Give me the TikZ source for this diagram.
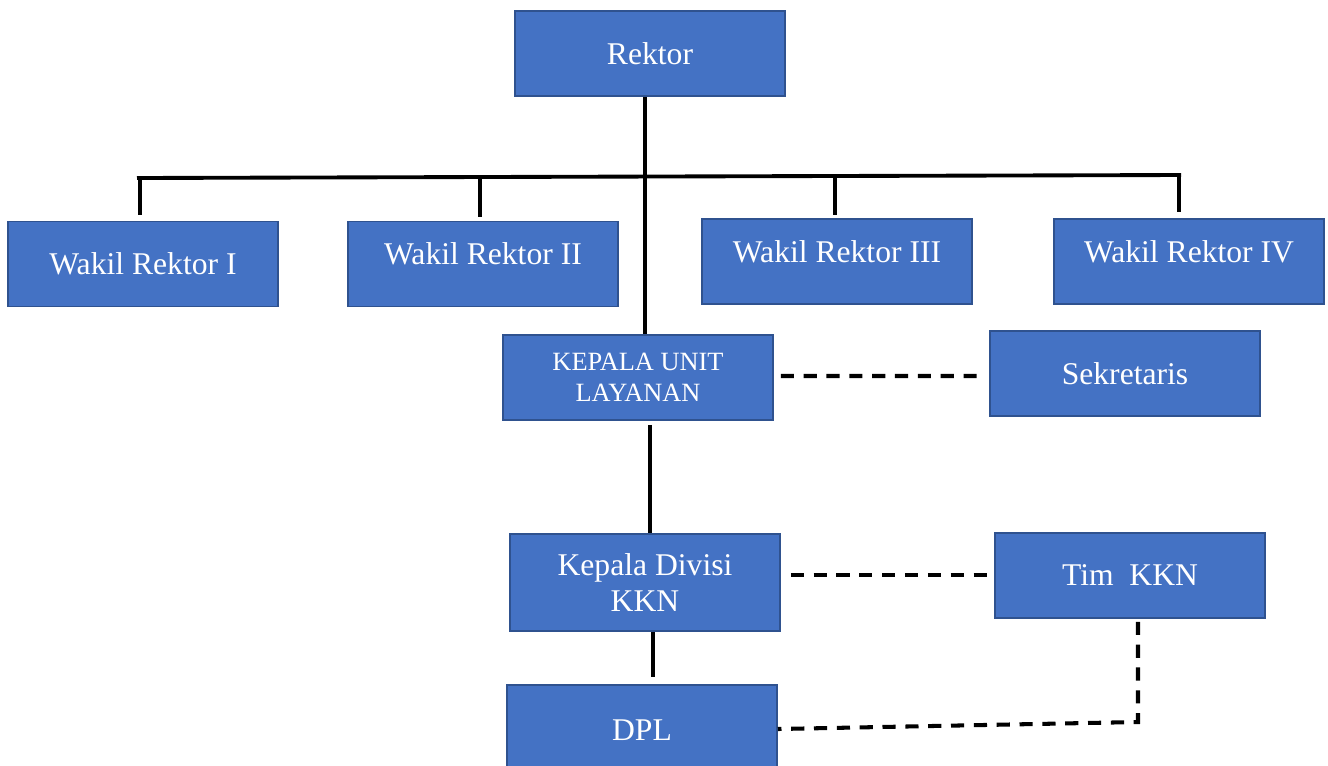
\documentclass[tikz,border=0pt]{standalone}
\usepackage{fontspec}
\setmainfont{Liberation Serif}
\usepackage{tikz}
\usetikzlibrary{positioning, calc}

\definecolor{boxblue}{HTML}{4472C4}
\definecolor{boxedge}{HTML}{2F528F}

\tikzset{
  unit/.style={draw=boxedge, fill=boxblue, line width=0.9pt, text=white,
    minimum width=5.4cm, minimum height=1.7cm, align=center,
    font=\fontsize{18}{21}\selectfont},
  lifted/.style={text depth=0.4cm},
  solidline/.style={line width=2.2pt, black},
  dashline/.style={line width=2.3pt, black, dash pattern=on 7.5pt off 5.5pt}
}

\begin{document}
\begin{tikzpicture}[x=0.02cm, y=-0.02cm]
\useasboundingbox (0,0) rectangle (1328,765);

% Top level
\node[unit] (rektor) at (650,53.5) {Rektor};

% Vice rectors
\node[unit] (wr1) at (143,264) {Wakil Rektor I};
\node[unit, lifted] (wr2) at (483,264) {Wakil Rektor II};
\node[unit, lifted] (wr3) at (837,261.5) {Wakil Rektor III};
\node[unit, lifted] (wr4) at (1189,261.5) {Wakil Rektor IV};

% Service unit
\node[unit, font=\fontsize{15}{17.5}\selectfont] (kul) at (638,377.5) {KEPALA UNIT\\LAYANAN};
\node[unit] (sek) at (1125,373.5) {Sekretaris};

% KKN division
\node[unit, minimum height=1.94cm] (kdk) at (645,582.5) {Kepala Divisi\\KKN};
\node[unit] (tim) at (1130,575.5) {Tim~~KKN};
\node[unit, minimum height=1.8cm] (dpl) at (642,730) {DPL};

% Bus line
\coordinate (busL) at (137,178);
\coordinate (busR) at (1181,175);
\coordinate (hub) at (645,177);
\draw[solidline] (busL) -- (busR);
\draw[solidline] (rektor.south -| hub) -- (hub |- kul.north);

% Drops to vice rectors
\draw[solidline] (140,178) -- ($(wr1.north -| 140,0)+(0,-6)$);
\draw[solidline] (480,178) -- ($(wr2.north -| 480,0)+(0,-4)$);
\draw[solidline] (835,176) -- ($(wr3.north -| 835,0)+(0,-3)$);
\draw[solidline] (1179,175) -- ($(wr4.north -| 1179,0)+(0,-6)$);

% Lower chain
\draw[solidline] ($(kul.south -| 650,0)+(0,4)$) -- (kdk.north -| 650,0);
\draw[solidline] (kdk.south -| 653,0) -- ($(dpl.north -| 653,0)+(0,-7)$);

% Dashed links
\draw[dashline] ($(kul.east)+(7,-1.5)$) -- ($(sek.west)+(-10,2.5)$);
\draw[dashline] ($(kdk.east)+(10,-7.5)$) -- ($(tim.west)+(0,-0.5)$);
\coordinate (bend) at (1138,722);
\draw[dashline] ($(tim.south -| bend)+(0,3)$) -- (bend) -- ($(dpl.east)+(0,-1)$);

\end{tikzpicture}
\end{document}
